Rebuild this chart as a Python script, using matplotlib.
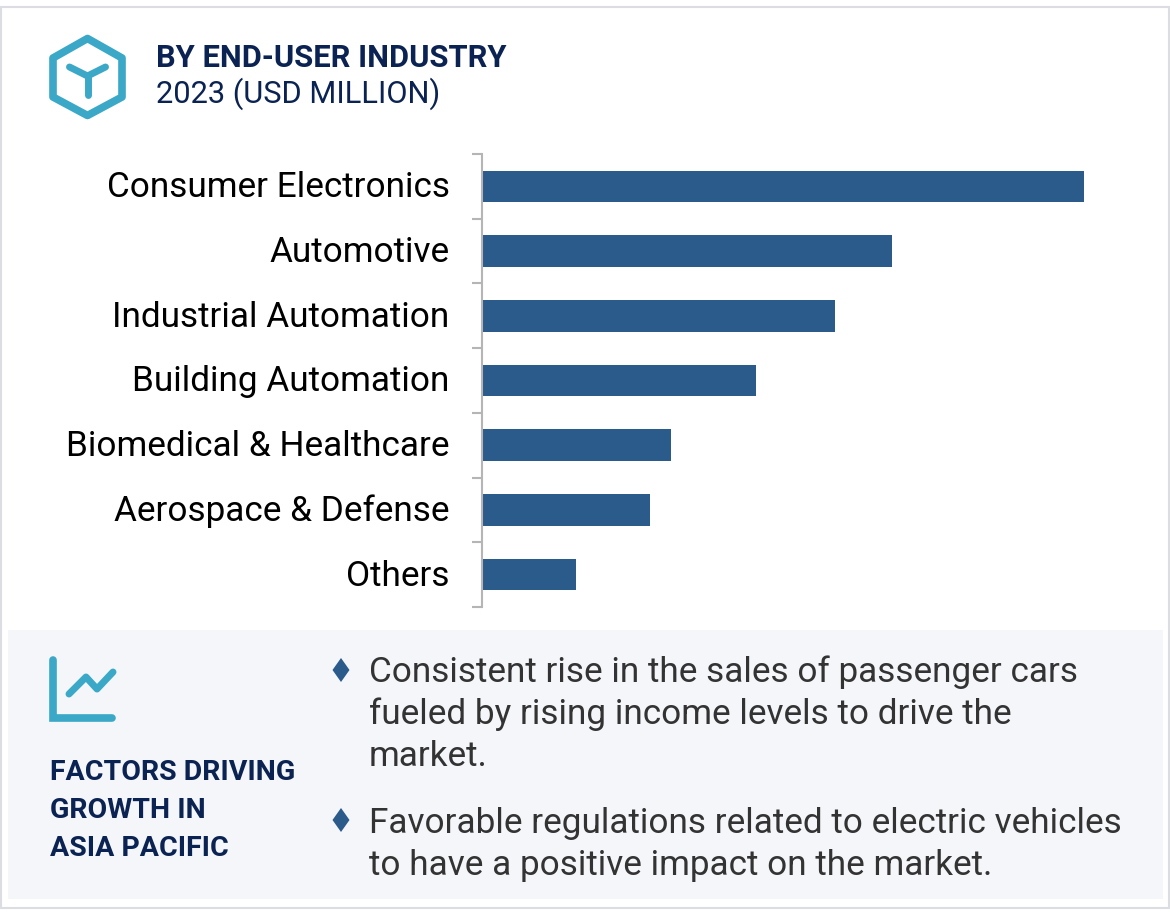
import numpy as np
import matplotlib
matplotlib.use('Agg')
import matplotlib.pyplot as plt
from matplotlib.patches import Rectangle, Polygon
from matplotlib.transforms import ScaledTranslation

plt.rcParams['font.family'] = ['Roboto', 'DejaVu Sans']

# Values (no axis in the picture, so relative units)
categories = ["Consumer Electronics", "Automotive", "Industrial Automation", "Building Automation",
              "Biomedical & Healthcare", "Aerospace & Defense", "Others"]
values = [601, 409, 352, 273, 188, 167, 93]

title = "BY END-USER INDUSTRY"
subtitle = "2023 (USD MILLION)"
factors_lines = ["FACTORS DRIVING", "GROWTH IN", "ASIA PACIFIC"]
bullet_1 = ["Consistent rise in the sales of passenger cars", "fueled by rising income levels to drive the", "market."]
bullet_2 = ["Favorable regulations related to electric vehicles", "to have a positive impact on the market."]

W, H = 1170, 917
NAVY = '#0b2352'
TEAL = '#3aa8c6'
BAR = '#2b5b8a'

fig = plt.figure(figsize=(W/100, H/100), dpi=100, facecolor='white')

# overlay in pixel coordinates for the frame, panel, icons and text
bg = fig.add_axes([0, 0, 1, 1], zorder=0)
bg.set_xlim(0, W)
bg.set_ylim(H, 0)
bg.axis('off')

bg.add_patch(Rectangle((1, 7), 1168, 901, fc='white', ec='#dcdde3', lw=1.5))
bg.add_patch(Rectangle((8, 630), 1155, 269, fc='#f4f6fa', ec='none'))

# hexagon icon
hex_pts = [(87.5, 38.5), (122, 58), (122, 97), (87.5, 115.5), (53, 97), (53, 58)]
bg.add_patch(Polygon(hex_pts, closed=True, fc='none', ec=TEAL, lw=5.5, joinstyle='round'))
bg.plot([69.5, 87.5, 105.5], [67, 76, 67], color=TEAL, lw=5, solid_capstyle='round', solid_joinstyle='round')
bg.plot([87.5, 87.5], [76, 95], color=TEAL, lw=5, solid_capstyle='round')

bg.text(156, 58, title, fontsize=22.25, fontweight='bold', color=NAVY, va='center', ha='left')
bg.text(156, 94, subtitle, fontsize=22.25, color=NAVY, va='center', ha='left')

# trend icon
bg.plot([53, 53, 112], [660, 718, 718], color=TEAL, lw=5.5, solid_capstyle='round', solid_joinstyle='miter')
bg.plot([69, 86, 97, 113], [694, 677, 689, 672], color=TEAL, lw=5, solid_capstyle='round', solid_joinstyle='round')

for txt, y in zip(factors_lines, [772, 810, 849]):
    bg.text(49.5, y, txt, fontsize=20.5, fontweight='bold', color=NAVY, va='center', ha='left')

for txt, y in zip(bullet_1, [672, 714, 757]):
    bg.text(369, y, txt, fontsize=25.33, color='#333333', va='center', ha='left')
for txt, y in zip(bullet_2, [823, 865]):
    bg.text(369, y, txt, fontsize=25.33, color='#333333', va='center', ha='left')

for y in [670, 820]:
    bg.add_patch(Polygon([(341, y-12), (349.5, y), (341, y+12), (332.5, y)], closed=True, fc=BAR, ec='none'))

# bar chart
ax = fig.add_axes([483/W, 1-607/H, 601/W, (607-154)/H], zorder=1)
ax.patch.set_alpha(0)
# spine first: set_position resets the ticks
for s in ['top', 'right', 'bottom']:
    ax.spines[s].set_visible(False)
ax.spines['left'].set_color('#b5b5b5')
ax.spines['left'].set_linewidth(1.5)
ax.spines['left'].set_position(('outward', 1))

ypos = np.arange(len(categories))
ax.barh(ypos, values, height=0.49, color=BAR)
ax.set_xlim(0, 601)
ax.set_ylim(len(categories)-0.5, -0.5)
ax.set_yticks(ypos)
ax.set_yticklabels(categories, fontsize=25.3, color='#000000')
ax.set_yticks(np.arange(-0.5, len(categories)), minor=True)
ax.tick_params(axis='y', which='major', length=0, pad=23)
ax.tick_params(axis='y', which='minor', length=7, width=1.5, color='#b5b5b5', direction='out')
# labels sit 2px higher than tick centre in the reference
up = ScaledTranslation(0, 2/100, fig.dpi_scale_trans)
for lab in ax.get_yticklabels():
    lab.set_transform(lab.get_transform() + up)
ax.set_xticks([])

fig.savefig('out.png', dpi=100)
